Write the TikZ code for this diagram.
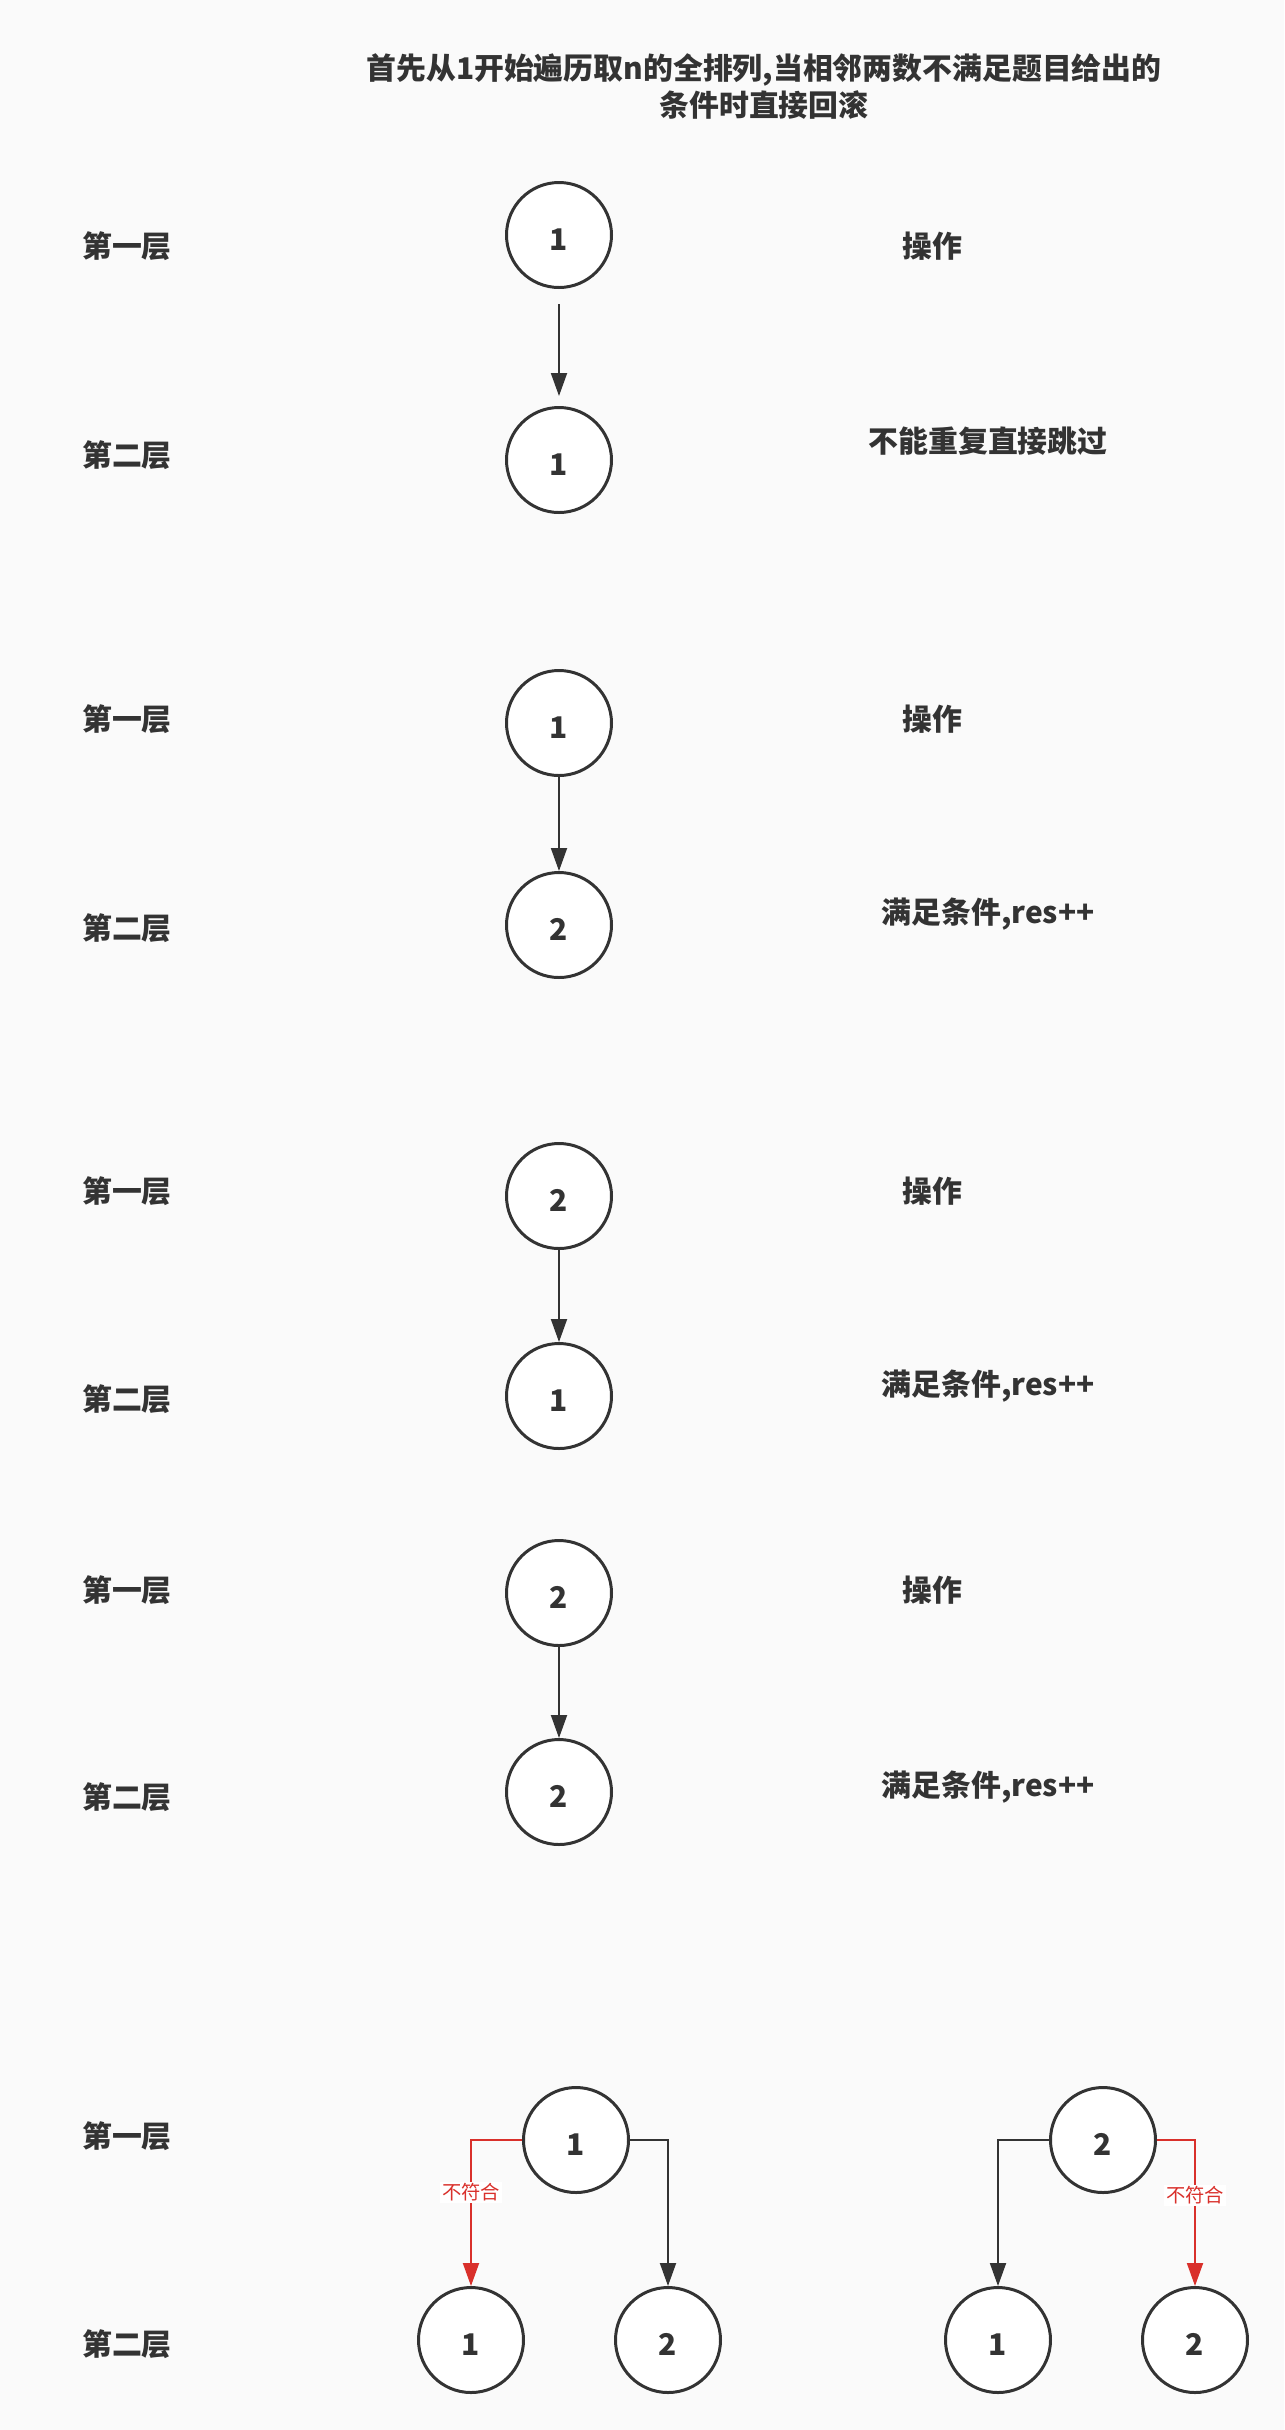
\documentclass[tikz,border=0pt]{standalone}
\usepackage{fontspec}
\setmainfont{Noto Sans CJK SC}
\usepackage{tikz}
\usetikzlibrary{calc,positioning,arrows.meta}
\definecolor{bg}{HTML}{FAFAFA}
\definecolor{ink}{HTML}{333333}
\definecolor{nored}{HTML}{D9302B}

\begin{document}
\begin{tikzpicture}[thick,
  num/.style={circle,draw=ink,fill=white,line width=1.7pt,minimum size=2.1cm,inner sep=0pt,
    text height=0.6cm,text depth=0cm,font=\fontsize{17}{20}\selectfont\bfseries,text=ink},
  txt/.style={font=\fontsize{17}{20}\selectfont\bfseries,text=ink,inner sep=0pt},
  edge/.style={draw=ink,line width=1.1pt,-{Triangle[length=0.46cm,width=0.32cm]}},
  bad/.style={draw=nored,line width=1.1pt,-{Triangle[length=0.46cm,width=0.32cm]}},
  badlbl/.style={fill=white,text=nored,font=\fontsize{11}{13}\selectfont,inner sep=1pt}]
  \fill[bg] (0,0) rectangle (25.68,-48.6);
  \useasboundingbox (0,0) rectangle (25.68,-48.6);
  % title
  \node[txt,align=center] (title) at (15.28,-1.73) {首先从1开始遍历取n的全排列,当相邻两数不满足题目给出的\\[1pt]条件时直接回滚};
  % case 1 1
  \node[num] (a1) at (11.18,-4.70) {1};
  \node[num] (a2) at (11.18,-9.20) {1};
  \node[txt] (aL1) at (2.54,-4.92) {第一层};
  \node[txt] (aL2) at (2.54,-9.10) {第二层};
  \node[txt] (aR1) at (18.65,-4.92) {操作};
  \node[txt] (aR2) at (19.76,-8.82) {不能重复直接跳过};
  \draw[edge,shorten <=0.3cm,shorten >=0.2cm] (a1) -- (a2);
  % case 1 2
  \node[num] (b1) at (11.18,-14.46) {1};
  \node[num] (b2) at (11.18,-18.50) {2};
  \node[txt] (bL1) at (2.54,-14.38) {第一层};
  \node[txt] (bL2) at (2.54,-18.56) {第二层};
  \node[txt] (bR1) at (18.65,-14.38) {操作};
  \node[txt] (bR2) at (19.76,-18.28) {满足条件,res++};
  \draw[edge] (b1) -- (b2);
  % case 2 1
  \node[num] (c1) at (11.18,-23.92) {2};
  \node[num] (c2) at (11.18,-27.92) {1};
  \node[txt] (cL1) at (2.54,-23.82) {第一层};
  \node[txt] (cL2) at (2.54,-27.98) {第二层};
  \node[txt] (cR1) at (18.65,-23.82) {操作};
  \node[txt] (cR2) at (19.76,-27.72) {满足条件,res++};
  \draw[edge] (c1) -- (c2);
  % case 2 2
  \node[num] (d1) at (11.18,-31.86) {2};
  \node[num] (d2) at (11.18,-35.84) {2};
  \node[txt] (dL1) at (2.54,-31.80) {第一层};
  \node[txt] (dL2) at (2.54,-35.94) {第二层};
  \node[txt] (dR1) at (18.65,-31.80) {操作};
  \node[txt] (dR2) at (19.76,-35.74) {满足条件,res++};
  \draw[edge] (d1) -- (d2);
  % whole tree
  \node[num] (e1) at (11.52,-42.80) {1};
  \node[num] (e11) at (9.42,-46.80) {1};
  \node[num] (e12) at (13.36,-46.80) {2};
  \node[num] (f1) at (22.06,-42.80) {2};
  \node[num] (f21) at (19.96,-46.80) {1};
  \node[num] (f22) at (23.90,-46.80) {2};
  \node[txt] (eL1) at (2.54,-42.72) {第一层};
  \node[txt] (eL2) at (2.54,-46.88) {第二层};
  \draw[bad] (e1.west) -| node[badlbl,pos=0.68] {不符合} (e11.north);
  \draw[edge] (e1.east) -| (e12.north);
  \draw[edge] (f1.west) -| (f21.north);
  \draw[bad] (f1.east) -| node[badlbl,pos=0.69] {不符合} (f22.north);
\end{tikzpicture}
\end{document}
